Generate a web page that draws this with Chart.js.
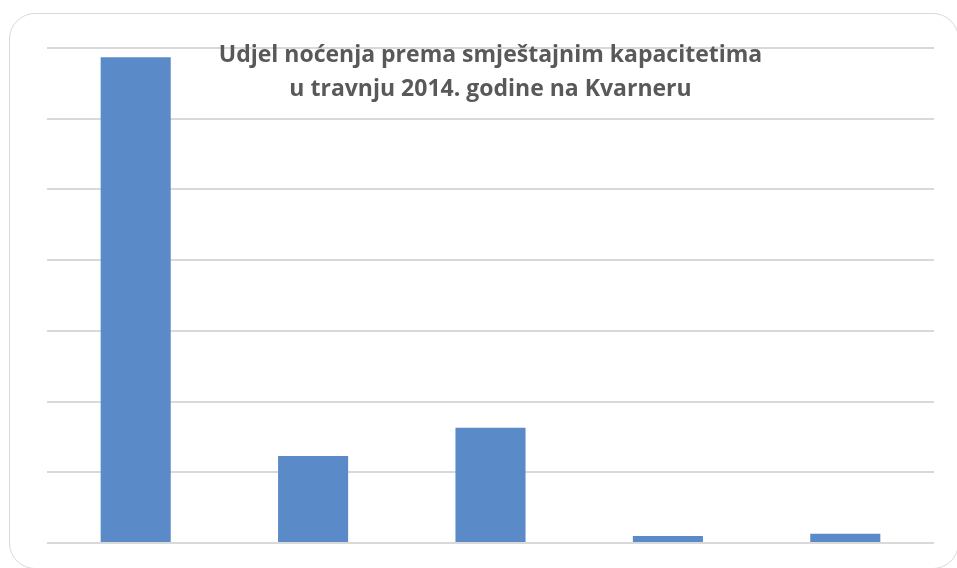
<!DOCTYPE html>
<html>
<head>
<meta charset="utf-8">
<script src="https://cdn.jsdelivr.net/npm/chart.js@4/dist/chart.umd.min.js"></script>
<style>
  html, body { margin: 0; padding: 0; background: #fff; overflow: hidden; }
  #wrap { position: relative; width: 957px; height: 568px; overflow: hidden; }
  #frame {
    position: absolute; left: 9px; top: 13px; width: 950px; height: 556px;
    border: 1.5px solid #d9d9d9; border-radius: 26px; box-sizing: border-box;
  }
  #chart { position: absolute; left: 0; top: 0; }
</style>
</head>
<body>
<div id="wrap">
  <div id="frame"></div>
  <canvas id="chart" width="957" height="568"></canvas>
</div>
<script>
// share of overnight stays (%)
const categories = ['Hoteli', 'Privatni smještaj', 'Kampovi', 'Hosteli', 'Ostalo'];
const shares = [68.7, 12.3, 16.3, 1.0, 1.3];
const titleLines = ['Udjel noćenja prema smještajnim kapacitetima', 'u travnju 2014. godine na Kvarneru'];

const barColor = '#5a8ac8';
const gridColor = '#d9d9d9';

// title sits over the plot, like the original
const overlayTitle = {
  id: 'overlayTitle',
  afterDraw(chart) {
    const { ctx, chartArea } = chart;
    const cx = (chartArea.left + chartArea.right) / 2;
    ctx.save();
    ctx.font = 'bold 23px "Open Sans", Lato, sans-serif';
    ctx.fillStyle = '#595959';
    ctx.textAlign = 'center';
    ctx.textBaseline = 'alphabetic';
    ctx.fillText(titleLines[0], cx, chartArea.top + 14);
    ctx.fillText(titleLines[1], cx, chartArea.top + 48);
    ctx.restore();
  },
};

const ctx = document.getElementById('chart').getContext('2d');
new Chart(ctx, {
  type: 'bar',
  data: {
    labels: categories,
    datasets: [{
      data: shares,
      backgroundColor: barColor,
      borderWidth: 0,
      barPercentage: 0.395,
      categoryPercentage: 1,
    }],
  },
  options: {
    responsive: false,
    animation: false,
    layout: { padding: { left: 47, right: 23, top: 48, bottom: 25 } },
    plugins: {
      legend: { display: false },
      title: { display: false },
      tooltip: { enabled: false },
    },
    scales: {
      x: { display: false },
      y: {
        min: 0,
        max: 70,
        ticks: { display: false, stepSize: 10 },
        grid: { color: gridColor, lineWidth: 2, drawTicks: false },
        border: { display: false },
      },
    },
  },
  plugins: [overlayTitle],
});
</script>
</body>
</html>
